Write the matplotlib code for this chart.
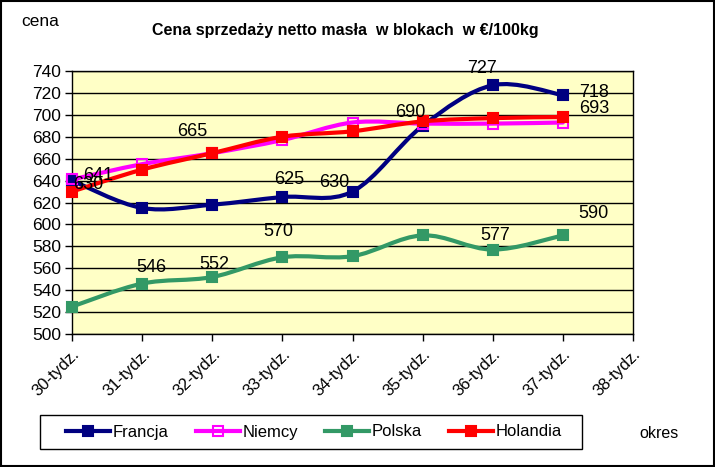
import matplotlib
matplotlib.use("Agg")
import matplotlib.pyplot as plt
from matplotlib.path import Path
from matplotlib.patches import PathPatch, Rectangle
from matplotlib.lines import Line2D
import numpy as np

plt.rcParams['font.family'] = ['Liberation Sans', 'DejaVu Sans']

categories = ["30-tydz.", "31-tydz.", "32-tydz.", "33-tydz.", "34-tydz.",
              "35-tydz.", "36-tydz.", "37-tydz.", "38-tydz."]
francja = [640, 615, 618, 625, 630, 690, 727, 718]
niemcy = [641, 655, 665, 677, 693, 692, 692, 693]
polska = [525, 546, 552, 570, 571, 590, 577, 590]
holandia = [630, 650, 665, 680, 685, 694, 697, 698]

series = [
    ("Francja", francja, "#000080", "s", "#000080"),
    ("Niemcy", niemcy, "#FF00FF", "s", "none"),
    ("Polska", polska, "#339966", "s", "#339966"),
    ("Holandia", holandia, "#FF0000", "s", "#FF0000"),
]

# data labels: (series index, point index, dx px, dy px)
labels = [
    (3, 0, 16, 7), (1, 0, 26, 4), (3, 2, -20, 22), (0, 3, 7, 18),
    (0, 4, -18, 9), (0, 5, -12, 13), (0, 6, -11, 17), (0, 7, 31, 3),
    (1, 7, 31, 14), (2, 7, 31, 22), (2, 6, 2, 14), (2, 3, -4, 26),
    (2, 1, 9, 16), (2, 2, 2, 13),
]

W, H = 715, 467
fig = plt.figure(figsize=(W / 100, H / 100), dpi=100)
fig.patch.set_facecolor("white")
fig.add_artist(Rectangle((0.001, 0.002), 0.997, 0.996, transform=fig.transFigure,
                         fill=False, edgecolor="black", linewidth=1.5))

ax = fig.add_axes([72 / W, 1 - 334 / H, 561 / W, 263 / H])
ax.set_facecolor("#FFFFC6")
ax.set_xlim(0, len(categories) - 1)
ax.set_ylim(500, 740)
ax.set_yticks(np.arange(500, 741, 20))
ax.set_xticks(np.arange(len(categories)))
ax.set_xticklabels(categories, rotation=45, ha="right", va="top",
                   rotation_mode="anchor", fontsize=12)
ax.tick_params(axis="y", labelsize=12.5, length=5, width=1, direction="out", pad=3)
ax.tick_params(axis="x", length=5, width=1, direction="out", pad=4)
ax.grid(axis="y", color="black", linewidth=1)
ax.set_axisbelow(True)
for sp in ax.spines.values():
    sp.set_color("black")
    sp.set_linewidth(1)


def smooth_path(xs, ys):
    pts = np.column_stack([xs, ys]).astype(float)
    n = len(pts)
    verts = [pts[0]]
    codes = [Path.MOVETO]
    for i in range(n - 1):
        p0 = pts[i - 1] if i > 0 else pts[i]
        p1 = pts[i]
        p2 = pts[i + 1]
        p3 = pts[i + 2] if i + 2 < n else pts[i + 1]
        c1 = p1 + (p2 - p0) / 6.0
        c2 = p2 - (p3 - p1) / 6.0
        verts += [c1, c2, p2]
        codes += [Path.CURVE4] * 3
    return Path(verts, codes)


handles = []
for name, vals, col, mk, mfc in series:
    xs = np.arange(len(vals))
    ax.add_patch(PathPatch(smooth_path(xs, vals), facecolor="none", edgecolor=col,
                           linewidth=3, capstyle="round", joinstyle="round", zorder=3))
    ax.plot(xs, vals, linestyle="none", marker=mk, markersize=7.5,
            markerfacecolor=mfc, markeredgecolor=col, markeredgewidth=1.5, zorder=4,
            clip_on=False)
    handles.append(Line2D([], [], color=col, linewidth=3, marker=mk, markersize=7,
                          markerfacecolor=mfc, markeredgecolor=col, markeredgewidth=1.5))

for si, pi, dx, dy in labels:
    vals = series[si][1]
    ax.annotate(str(vals[pi]), xy=(pi, vals[pi]), xytext=(dx, dy),
                textcoords="offset pixels", ha="center", va="center",
                fontsize=13, color="black", zorder=6, annotation_clip=False)

fig.text(345 / W, 1 - 31 / H, "Cena sprzedaży netto masła  w blokach  w €/100kg",
         ha="center", va="center", fontsize=11.5, fontweight="bold")
fig.text(40 / W, 1 - 21 / H, "cena", ha="center", va="center", fontsize=12.5)
fig.text(659 / W, 1 - 433 / H, "okres", ha="center", va="center", fontsize=11.5)

# legend frame
fig.add_artist(Rectangle((40 / W, 1 - 449 / H), 542 / W, 34 / H,
                         transform=fig.transFigure, fill=False,
                         edgecolor="black", linewidth=1))
leg = fig.legend(handles, [s[0] for s in series], loc="center",
                 bbox_to_anchor=(314 / W, 1 - 432 / H), ncol=4, frameon=False,
                 fontsize=12, handlelength=2.64, handletextpad=0.18,
                 columnspacing=1.6, borderpad=0.3)

fig.savefig("out.png", dpi=100)
